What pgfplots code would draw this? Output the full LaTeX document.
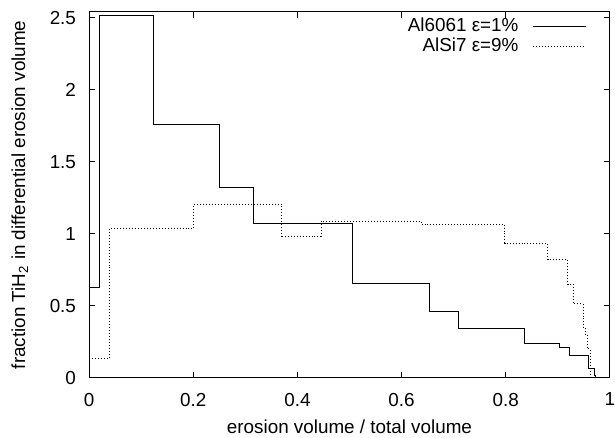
\documentclass[border=0pt]{standalone}
\usepackage{fontspec}
\setmainfont{Liberation Sans}
\usepackage{pgfplots}
\pgfplotsset{compat=1.18}

\begin{document}
\begin{tikzpicture}
\begin{axis}[
  scale only axis,
  width=262.5pt, height=184.5pt,
  xmin=0, xmax=1, ymin=0, ymax=2.54,
  xtick={0,0.2,0.4,0.6,0.8,1},
  ytick={0,0.5,1,1.5,2,2.5},
  tick align=inside,
  major tick length=3pt,
  every tick/.style={black, line width=0.5pt},
  axis line style={line width=0.5pt},
  /pgf/number format/assume math mode=true,
  tick label style={font=\fontsize{9.5}{11}\selectfont, inner sep=0pt},
  xticklabel style={yshift=-7.5pt},
  yticklabel style={xshift=-6.5pt},
  label style={font=\fontsize{9.5}{11}\selectfont, inner sep=0pt},
  xlabel={erosion volume / total volume},
  xlabel style={at={(axis description cs:0.5,0)}, anchor=north, yshift=-21pt},
  ylabel={fraction TiH\textsubscript{2} in differential erosion volume},
  ylabel style={at={(axis description cs:-0.1333,0.5)}, anchor=center},
  legend style={draw=none, fill=none,
    at={(axis description cs:0.956,0.984)}, anchor=north east,
    inner sep=0pt, outer sep=0pt,
    font=\fontsize{9.5}{11}\selectfont,
    nodes={inner sep=0pt, text height=7pt, text depth=1.5pt},
    row sep=1.5pt, column sep=7pt},
  legend plot pos=right,
  legend cell align=right,
  legend image code/.code={\draw[#1] (0pt,0pt) -- (27pt,0pt);},
]
% Al6061, eps = 1%
\addplot[const plot, black, line width=0.5pt] coordinates {
  (0,0.625) (0.0204,2.515) (0.1225,1.76) (0.250,1.32) (0.315,1.074)
  (0.506,0.653) (0.654,0.458) (0.710,0.339) (0.837,0.236) (0.903,0.213)
  (0.922,0.156) (0.959,0.064) (0.970,0.019) (0.973,0)
};
% AlSi7, eps = 9%
\addplot[const plot, black, line width=0.5pt, dash pattern=on 0.5pt off 1pt] coordinates {
  (0,0.137) (0.0394,1.038) (0.201,1.203) (0.370,0.983) (0.446,1.086)
  (0.638,1.065) (0.798,0.933) (0.881,0.82) (0.919,0.648) (0.930,0.515)
  (0.949,0.35) (0.953,0.30) (0.958,0.20) (0.963,0)
};
\legend{Al6061 ε=1\%, AlSi7 ε=9\%}
\end{axis}
\path (current axis.south west) ++(-45pt,-30pt);
\path (current axis.north east) ++(0pt,6pt);
\end{tikzpicture}
\end{document}
